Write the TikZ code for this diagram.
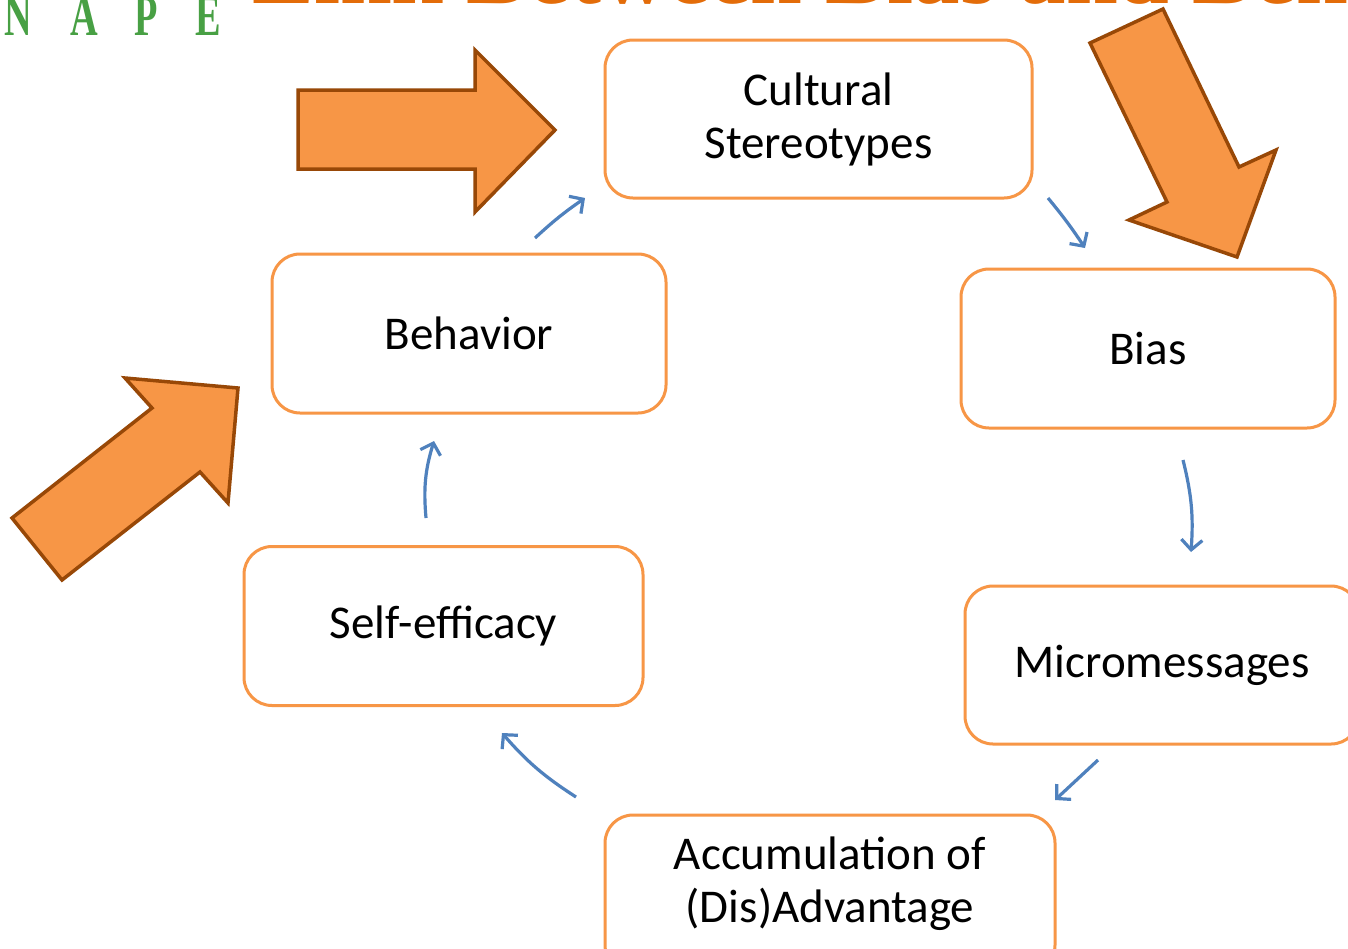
\documentclass[tikz,border=0pt]{standalone}
\usepackage{fontspec}
\setmainfont{Carlito}
\newfontfamily\titlefont{Liberation Serif}
\usetikzlibrary{arrows.meta}

\definecolor{boxorange}{HTML}{F79646}
\definecolor{arrowedge}{HTML}{984807}
\definecolor{flowblue}{HTML}{4F81BD}
\definecolor{titleorange}{HTML}{E36C09}
\definecolor{napegreen}{RGB}{72,160,68}

\tikzset{
  stagebox/.style={draw=boxorange, line width=3pt, rounded corners=28pt,
    fill=white, inner sep=0pt, outer sep=0pt, align=center,
    font=\fontsize{47}{53}\selectfont},
  stagetext/.style={inner sep=0pt, align=center, font=\fontsize{47}{53}\selectfont},
  flow/.style={draw=flowblue, line width=3.2pt,
    -{Straight Barb[length=10pt,width=21pt,line width=3.2pt]}},
  blockarrow/.style={fill=boxorange, draw=arrowedge, line width=3.5pt, line join=miter},
  napeletter/.style={text=napegreen, inner sep=0pt, anchor=base,
    font=\titlefont\bfseries\fontsize{58}{58}\selectfont},
}

\begin{document}
\begin{tikzpicture}[x=1pt,y=-1pt]
\useasboundingbox (0,0) rectangle (1348,948);
\clip (0,0) rectangle (1348,948);
\fill[white] (0,0) rectangle (1348,948);

% heading, running off the top edge
\node[anchor=base west, inner sep=0pt, text=titleorange,
  font=\titlefont\bfseries\fontsize{93}{93}\selectfont] (heading) at (252,3)
  {Link Between Bias and Behavior};
\node[napeletter] (n1) at (18,35) {\scalebox{0.66}[1]{N}};
\node[napeletter] (n2) at (84,35) {\scalebox{0.66}[1]{A}};
\node[napeletter] (n3) at (146,35) {\scalebox{0.66}[1]{P}};
\node[napeletter] (n4) at (208,35) {\scalebox{0.66}[1]{E}};

% large orange arrows
\draw[blockarrow] (298,90) -- (475,90) -- (475,50) -- (555,130) -- (475,212)
  -- (475,169) -- (298,169) -- cycle;
\draw[blockarrow] (1090,43) -- (1163,9) -- (1239,167) -- (1276,150)
  -- (1237,257) -- (1129,220) -- (1167,202) -- cycle;
\draw[blockarrow] (62,580) -- (200,472) -- (228,503) -- (238,388)
  -- (125,378) -- (152,408) -- (12,518) -- cycle;

% the cycle of stages
\node[stagebox, minimum width=427pt, minimum height=158pt] (cs) at (818.5,119)
  {Cultural\\Stereotypes};
\node[stagebox, minimum width=374pt, minimum height=159pt] (bias) at (1148,348.5)
  {Bias};
\node[stagebox, minimum width=394pt, minimum height=158pt] (micro) at (1162,665)
  {Micromessages};
\node[stagebox, minimum width=450pt, minimum height=158pt] (acc) at (830,894) {};
\node[stagetext] (acctext) at ([yshift=10pt]acc.center)
  {Accumulation of\\(Dis)Advantage};
\node[stagebox, minimum width=399pt, minimum height=159pt] (self) at (443.5,626)
  {Self-efficacy};
\node[stagebox, minimum width=394pt, minimum height=159pt] (beh) at (469,333.5)
  {Behavior};

% arrow ends between the stages
\coordinate (b1) at (535,238);  \coordinate (e1) at (585,198);
\coordinate (b2) at (1048,198); \coordinate (e2) at (1085,248);
\coordinate (b3) at (1183,460); \coordinate (e3) at (1191,552);
\coordinate (b4) at (1098,760); \coordinate (e4) at (1055,800);
\coordinate (b5) at (576,797);  \coordinate (e5) at (502,733);
\coordinate (b6) at (426,518);  \coordinate (e6) at (434,441);

\draw[flow] (b1) to[bend left=4] (e1);
\draw[flow] (b2) to[bend left=3] (e2);
\draw[flow] (b3) to[bend left=9] (e3);
\draw[flow] (b4) -- (e4);
\draw[flow] (b5) to[bend left=8] (e5);
\draw[flow] (b6) to[bend left=11] (e6);
\end{tikzpicture}
\end{document}
